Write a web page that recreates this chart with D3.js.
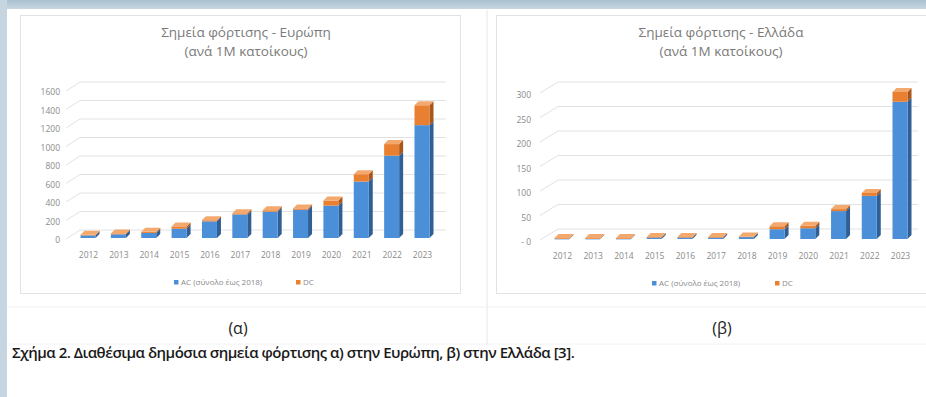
<!DOCTYPE html>
<html><head><meta charset="utf-8">
<script src="https://cdn.jsdelivr.net/npm/d3@7"></script>
<style>body{margin:0;background:#fff}svg{display:block}</style>
</head><body><svg id="c" width="926" height="397"></svg>
<script>
const years = ['2012','2013','2014','2015','2016','2017','2018','2019','2020','2021','2022','2023'];
const euAC = [28,40,55,100,180,255,285,305,350,610,890,1220];
const euDC = [7,10,12,25,12,12,15,15,55,80,125,215];
const grAC = [0.5,0.5,0.5,3,3,3,4,20,22,57,88,280];
const grDC = [1.5,1.5,1.5,1,1,1,1,6,5,4,6,20];
const euTicks = [0,200,400,600,800,1000,1200,1400,1600];
const grTicks = [0,50,100,150,200,250,300];
const titlesEU = ['Σημεία φόρτισης - Ευρώπη','(ανά 1M κατοίκους)'];
const titlesGR = ['Σημεία φόρτισης - Ελλάδα','(ανά 1M κατοίκους)'];
const legendLabels = ['AC (σύνολο έως 2018)','DC'];
const subLabels = ['(α)','(β)'];
const caption = 'Σχήμα 2. Διαθέσιμα δημόσια σημεία φόρτισης α) στην Ευρώπη, β) στην Ελλάδα [3].';

const svg = d3.select('#c');
const FONT = "'Open Sans', 'Noto Sans', sans-serif";
const BLUE = '#4b8fd8', BLUE_S = '#2f5f95', BLUE_T = '#86b4e8';
const ORANGE = '#e97f30', ORANGE_S = '#a9561a', ORANGE_T = '#f3a86e';

svg.append('rect').attr('x',0).attr('y',0).attr('width',926).attr('height',397).attr('fill','#fff');
const g0 = svg.append('defs').append('linearGradient').attr('id','tb').attr('x1',0).attr('y1',0).attr('x2',0).attr('y2',1);
g0.append('stop').attr('offset','0%').attr('stop-color','#a9c0d0');
g0.append('stop').attr('offset','100%').attr('stop-color','#c8d7e1');
svg.append('rect').attr('x',0).attr('y',0).attr('width',926).attr('height',9).attr('fill','url(#tb)');
svg.append('rect').attr('x',0).attr('y',0).attr('width',7).attr('height',397).attr('fill','#c6d5df');

const line = (x1,y1,x2,y2,c,w)=>svg.append('line').attr('x1',x1).attr('y1',y1).attr('x2',x2).attr('y2',y2).attr('stroke',c).attr('stroke-width',w||1);
line(487,10,487,345,'#e6e6e6');
line(7,307,926,307,'#f0f0f0');
line(7,344,926,344,'#f2f2f2');
svg.append('rect').attr('x',20.5).attr('y',15.5).attr('width',440).attr('height',278).attr('fill','#fff').attr('stroke','#e3e3e3');
svg.append('rect').attr('x',496.5).attr('y',15.5).attr('width',440).attr('height',278).attr('fill','#fff').attr('stroke','#e3e3e3');

function chart(cfg){
  const g = svg.append('g');
  const y = d3.scaleLinear().domain(cfg.domain).range(cfg.yRange);
  const x = d3.scalePoint().domain(years).range(cfg.xRange);
  const dx = cfg.dx, dy = cfg.dy;
  g.selectAll('.grid').data(cfg.ticks).enter().append('path')
    .attr('d', v => `M${cfg.axX},${y(v)+1}L${cfg.axX+dx},${y(v)+dy}L${cfg.gridEnd},${y(v)+dy}`)
    .attr('fill','none').attr('stroke','#e2e2e2').attr('stroke-width',1);
  const ya = d3.axisLeft(y).tickValues(cfg.ticks).tickSize(0).tickPadding(0).tickFormat(cfg.fmt);
  const yg = g.append('g').attr('transform',`translate(${cfg.labelX},${cfg.labelDy})`).call(ya);
  yg.select('.domain').remove();
  yg.selectAll('text').attr('font-family',FONT).attr('font-size',8.5).attr('fill','#8a8a8a');
  const xa = d3.axisBottom(x).tickSize(0).tickPadding(0);
  const xg = g.append('g').attr('transform',`translate(0,${cfg.xLabelY})`).call(xa);
  xg.select('.domain').remove();
  xg.selectAll('text').attr('font-family',FONT).attr('font-size',8.5).attr('fill','#8a8a8a').attr('dy','0.71em');
  const bw = cfg.bw, d = 4;
  years.forEach((yr,i)=>{
    const cx = x(yr) - bw/2;
    const segs = [
      {v0:0, v1:cfg.ac[i], f:BLUE, s:BLUE_S, t:BLUE_T},
      {v0:cfg.ac[i], v1:cfg.ac[i]+cfg.dc[i], f:ORANGE, s:ORANGE_S, t:ORANGE_T}
    ];
    segs.forEach((sg,j)=>{
      const yt = y(sg.v1), yb = y(sg.v0);
      g.append('path').attr('d',`M${cx+bw},${yb}L${cx+bw+d},${yb-d}L${cx+bw+d},${yt-d}L${cx+bw},${yt}Z`).attr('fill',sg.s);
      g.append('rect').attr('x',cx).attr('y',yt).attr('width',bw).attr('height',Math.max(0.6,yb-yt)).attr('fill',sg.f);
      if(j===1){
        g.append('path').attr('d',`M${cx},${yt}L${cx+d},${yt-d}L${cx+bw+d},${yt-d}L${cx+bw},${yt}Z`).attr('fill',sg.t);
      }
    });
  });
  cfg.titles.forEach((t,i)=>{
    g.append('text').attr('x',cfg.titleX).attr('y',cfg.titleY[i]).attr('text-anchor','middle')
      .attr('font-family',FONT).attr('font-size',13.5).attr('fill','#7a7a7a').text(t);
  });
  const lg = g.append('g').attr('font-family',FONT).attr('font-size',8).attr('fill','#8a8a8a');
  lg.append('rect').attr('x',cfg.leg[0]-2).attr('y',cfg.legY-2).attr('width',4.5).attr('height',4.5).attr('fill',BLUE);
  lg.append('text').attr('x',cfg.leg[0]+5).attr('y',cfg.legY+3).text(legendLabels[0]);
  lg.append('rect').attr('x',cfg.leg[1]-2).attr('y',cfg.legY-2).attr('width',4.5).attr('height',4.5).attr('fill',ORANGE);
  lg.append('text').attr('x',cfg.leg[1]+5).attr('y',cfg.legY+3).text(legendLabels[1]);
}

chart({domain:[0,1600], yRange:[238,90], xRange:[88,422], ticks:euTicks, fmt:d3.format('d'),
  axX:66, dx:14, dy:-8, gridEnd:446, labelX:60, labelDy:2, xLabelY:252, bw:15,
  ac:euAC, dc:euDC, titles:titlesEU, titleX:246, titleY:[37,56], leg:[176,298], legY:282});
chart({domain:[0,300], yRange:[239,92], xRange:[562,900], ticks:grTicks, fmt:v=> v===0 ? '-  0' : String(v),
  axX:540, dx:18, dy:-10, gridEnd:918, labelX:531, labelDy:3, xLabelY:253, bw:15,
  ac:grAC, dc:grDC, titles:titlesGR, titleX:721, titleY:[37,56], leg:[654,777], legY:283});

svg.append('text').attr('x',238).attr('y',334).attr('text-anchor','middle').attr('font-family',FONT).attr('font-size',16).attr('fill','#222').text(subLabels[0]);
svg.append('text').attr('x',722).attr('y',334).attr('text-anchor','middle').attr('font-family',FONT).attr('font-size',16).attr('fill','#222').text(subLabels[1]);
svg.append('text').attr('x',12).attr('y',358).attr('font-family',FONT).attr('font-size',15).attr('font-weight',600)
  .attr('letter-spacing',-0.5).attr('fill','#1a1a1a').text(caption);
</script></body></html>
